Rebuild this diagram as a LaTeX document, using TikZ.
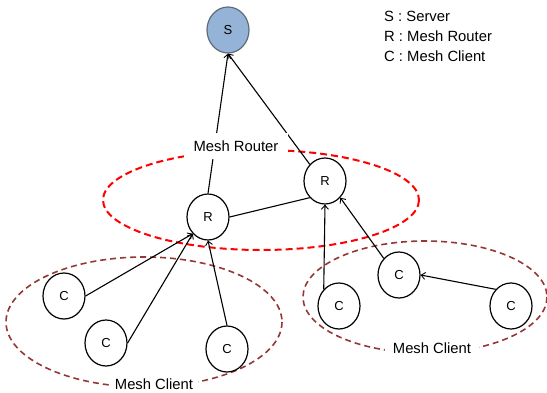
\documentclass[tikz,border=0pt]{standalone}
\usepackage{fontspec}
\setmainfont{Liberation Sans}
\usetikzlibrary{shapes.geometric,arrows.meta}
\definecolor{serverfill}{HTML}{95B3D7}
\definecolor{serverline}{HTML}{5F6B78}
\definecolor{clientring}{HTML}{953735}
\tikzset{
  dev/.style={ellipse,draw=black,line width=1.2pt,fill=white,minimum width=42pt,minimum height=46pt,inner sep=0pt,font=\fontsize{13}{15}\selectfont},
  link/.style={line width=1.1pt,-{Straight Barb[length=4pt,width=7pt,line width=0.9pt]}},
  plainlink/.style={line width=1.1pt},
  grouplabel/.style={fill=white,inner sep=0pt,font=\fontsize{14.8}{17}\selectfont},
  legend/.style={anchor=base west,inner sep=0pt,font=\fontsize{14.8}{17}\selectfont},
  routerring/.style={draw=red,line width=2pt,dash pattern=on 7pt off 4pt},
  clientgroup/.style={draw=clientring,line width=1.6pt,dash pattern=on 6pt off 4pt}
}
\begin{document}
\begin{tikzpicture}[x=1pt,y=-1pt]
\useasboundingbox (0,0) rectangle (547,392);

% group outlines
\draw[routerring] (261,200) ellipse [x radius=158, y radius=50];
\draw[clientgroup] (144,322) ellipse [x radius=138, y radius=65];
\draw[clientgroup] (425,297) ellipse [x radius=122, y radius=56];

% server, routers, clients
\node[dev,fill=serverfill,draw=serverline] (S) at (228,30) {S};
\node[dev] (R1) at (208,217) {R};
\node[dev] (R2) at (325,181) {R};
\node[dev] (C1) at (64,296) {C};
\node[dev] (C2) at (106,343) {C};
\node[dev] (C3) at (227,349) {C};
\node[dev] (C4) at (339,306) {C};
\node[dev] (C5) at (399,275) {C};
\node[dev] (C6) at (511,306) {C};

% links
\draw[link] (R1.north) -- (S.south);
\draw[link] (R2.north west) -- (S.south);
\draw[plainlink] (R1.east) -- (R2.south west);
\draw[link] (C1.east) -- (R1.south west);
\draw[link] (C2.east) -- (R1.south west);
\draw[link] (C3.north) -- (R1.south);
\draw[link] (C4.north west) -- (R2.south);
\draw[link] (C5.north west) -- (R2.south east);
\draw[link] (C6.north west) -- (C5.east);

% group labels
\node[grouplabel,minimum width=104pt,minimum height=26pt] (lblR) at (236,146) {Mesh Router};
\node[grouplabel,minimum width=88pt,minimum height=18pt] (lblC1) at (154,384) {Mesh Client};
\node[grouplabel,minimum width=94pt,minimum height=18pt] (lblC2) at (432,348) {Mesh Client};

% legend
\node[legend] (legS) at (384,21.7) {S : Server};
\node[legend] (legR) at (384,41.7) {R : Mesh Router};
\node[legend] (legC) at (384,61.7) {C : Mesh Client};
\end{tikzpicture}
\end{document}
